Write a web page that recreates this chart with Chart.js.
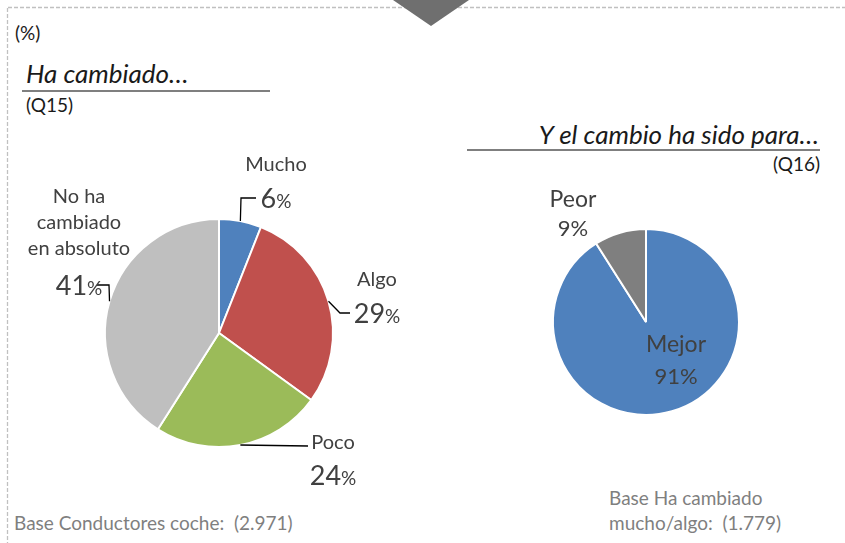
<!DOCTYPE html>
<html>
<head>
<meta charset="utf-8">
<script src="https://cdn.jsdelivr.net/npm/chart.js@4"></script>
<style>
  body { margin: 0; background: #fff; font-family: Lato, sans-serif; color: #262626; }
  #page { position: relative; width: 845px; height: 543px; overflow: hidden; }
  .abs { position: absolute; white-space: nowrap; line-height: 1; }
  .title { font-style: italic; font-size: 26px; color: #1a1a1a; }
  .rule { position: absolute; height: 2px; background: #7f7f7f; }
  .small { font-size: 19px; color: #1a1a1a; }
  .base { font-size: 19px; color: #7f7f7f; line-height: 25px; }
  canvas { position: absolute; }
</style>
</head>
<body>
<div id="page">
  <svg class="abs" style="left:0;top:0" width="845" height="543">
    <line x1="8" y1="7.5" x2="845" y2="7.5" stroke="#c0c0c0" stroke-width="1.3" stroke-dasharray="4,2"/>
    <line x1="7.5" y1="8" x2="7.5" y2="543" stroke="#c0c0c0" stroke-width="1.3" stroke-dasharray="4,2"/>
    <polygon points="393,0 469,0 431,26" fill="#6f6f6f"/>
  </svg>

  <div class="abs small" style="left:15px;top:23px;">(%)</div>
  <div class="abs title" style="left:26px;top:60px;">Ha cambiado…</div>
  <div class="rule" style="left:22px;top:90px;width:248px;"></div>
  <div class="abs small" style="left:26px;top:95px;">(Q15)</div>

  <div class="abs title" style="right:26px;top:121px;">Y el cambio ha sido para…</div>
  <div class="rule" style="left:467px;top:149px;width:353px;"></div>
  <div class="abs small" style="right:25px;top:154px;">(Q16)</div>

  <div class="abs base" style="left:14px;top:510px;">Base Conductores coche:&nbsp; (2.971)</div>
  <div class="abs base" style="left:609px;top:485px;">Base Ha cambiado<br>mucho/algo:&nbsp; (1.779)</div>

  <canvas id="pie1" width="438" height="420" style="left:0;top:123px;"></canvas>
  <canvas id="pie2" width="398" height="364" style="left:447px;top:140px;"></canvas>
</div>

<script>
// Q15 - Ha cambiado...
const q15Labels = ['Mucho', 'Algo', 'Poco', 'No ha cambiado en absoluto'];
const q15Values = [6, 29, 24, 41];
const q15Colors = ['#4f81bd', '#c0504d', '#9bbb59', '#bfbfbf'];

// Q16 - Y el cambio ha sido para...
const q16Labels = ['Mejor', 'Peor'];
const q16Values = [91, 9];
const q16Colors = ['#4f81bd', '#7f7f7f'];

// label placement, relative to pie centre (px)
const q15Layout = [
  { lines: ['Mucho'], x: 57, y: -168, pct: -135, leader: [[22, -135], [37, -135]] },
  { lines: ['Algo'], x: 158, y: -53, pct: -20, leader: [[121, -20], [131, -20]] },
  { lines: ['Poco'], x: 114, y: 110, pct: 142, leader: [[89, 113]] },
  { lines: ['No ha', 'cambiado', 'en absoluto'], x: -140, y: -136, pct: -48, leader: [[-110, -48], [-122, -48]] }
];
const q16Layout = [
  { lines: ['Mejor'], x: 30, y: 23, pct: 54 },
  { lines: ['Peor'], x: -73, y: -122, pct: -94 }
];

const FONT = 'Lato, sans-serif';
const TEXT_COLOR = '#404040';

function drawPct(ctx, value, x, y, bigSize, smallSize) {
  const num = String(value);
  ctx.font = bigSize + 'px ' + FONT;
  const wNum = ctx.measureText(num).width;
  ctx.font = smallSize + 'px ' + FONT;
  const wPct = ctx.measureText('%').width;
  const left = x - (wNum + wPct) / 2;
  ctx.textAlign = 'left';
  ctx.textBaseline = 'alphabetic';
  ctx.font = bigSize + 'px ' + FONT;
  ctx.fillText(num, left, y + bigSize * 0.36);
  ctx.font = smallSize + 'px ' + FONT;
  ctx.fillText('%', left + wNum, y + bigSize * 0.36);
}

function makeLabelPlugin(layout, opts) {
  return {
    id: 'sliceLabels',
    afterDatasetsDraw(chart) {
      const ctx = chart.ctx;
      const meta = chart.getDatasetMeta(0);
      const values = chart.data.datasets[0].data;
      ctx.save();
      ctx.fillStyle = TEXT_COLOR;
      meta.data.forEach((arc, i) => {
        const l = layout[i];
        const cx = arc.x, cy = arc.y;
        if (l.leader) {
          const mid = (arc.startAngle + arc.endAngle) / 2;
          ctx.strokeStyle = '#000';
          ctx.lineWidth = 1.3;
          ctx.beginPath();
          ctx.moveTo(cx + Math.cos(mid) * arc.outerRadius, cy + Math.sin(mid) * arc.outerRadius);
          l.leader.forEach(p => ctx.lineTo(cx + p[0], cy + p[1]));
          ctx.stroke();
        }
        ctx.textAlign = 'center';
        ctx.textBaseline = 'middle';
        ctx.font = opts.nameSize + 'px ' + FONT;
        l.lines.forEach((t, k) => {
          ctx.fillText(t, cx + l.x, cy + l.y + k * opts.lineHeight);
        });
        drawPct(ctx, values[i], cx + l.x, cy + l.pct, opts.pctSize, opts.pctSmall);
      });
      ctx.restore();
    }
  };
}

function pieConfig(labels, values, colors, radius, plugin) {
  return {
    type: 'pie',
    data: {
      labels: labels,
      datasets: [{
        data: values,
        backgroundColor: colors,
        borderColor: '#ffffff',
        borderWidth: 2
      }]
    },
    options: {
      responsive: false,
      animation: false,
      radius: radius,
      layout: { padding: 0 },
      plugins: {
        legend: { display: false },
        tooltip: { enabled: false }
      }
    },
    plugins: [plugin]
  };
}

new Chart(document.getElementById('pie1'),
  pieConfig(q15Labels, q15Values, q15Colors, 114,
    makeLabelPlugin(q15Layout, { nameSize: 20, lineHeight: 26, pctSize: 27, pctSmall: 19 })));

new Chart(document.getElementById('pie2'),
  pieConfig(q16Labels, q16Values, q16Colors, 93,
    makeLabelPlugin(q16Layout, { nameSize: 23, lineHeight: 28, pctSize: 22, pctSmall: 22 })));
</script>
</body>
</html>
